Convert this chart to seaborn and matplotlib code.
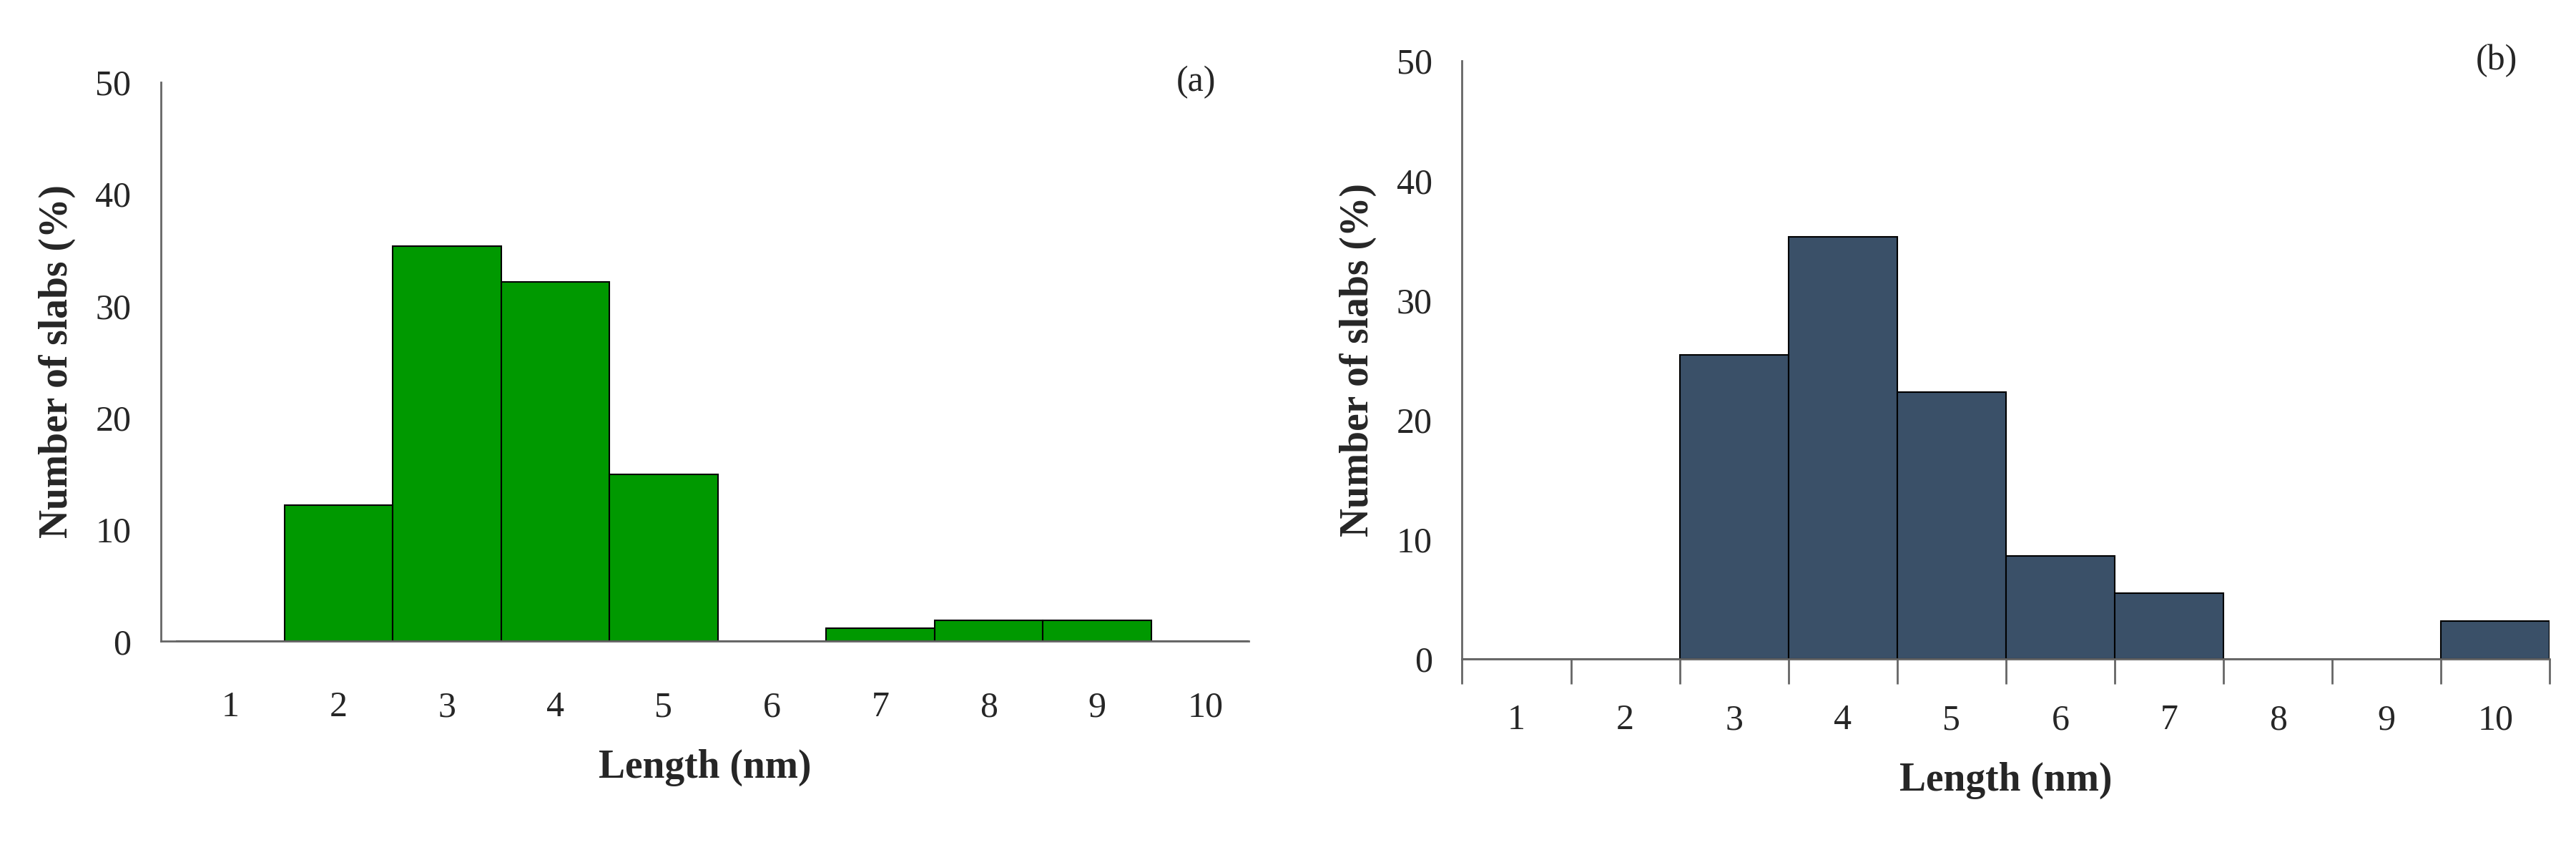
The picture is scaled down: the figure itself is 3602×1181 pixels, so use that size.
import matplotlib
matplotlib.use("Agg")
import matplotlib.pyplot as plt
import seaborn as sns

lengths = [1, 2, 3, 4, 5, 6, 7, 8, 9, 10]
slabs_a = [0, 12.2, 35.3, 32.1, 14.9, 0, 1.2, 1.9, 1.9, 0]
slabs_b = [0, 0, 25.4, 35.3, 22.3, 8.6, 5.5, 0, 0, 3.2]
yticks = [0, 10, 20, 30, 40, 50]

sns.set_theme(style="white")
plt.rcParams['font.family'] = ['Liberation Serif', 'DejaVu Serif']

fig = plt.figure(figsize=(36.02, 11.81), dpi=100)
axa = fig.add_axes([0.0625, 0.241, 0.4222, 0.662])
axb = fig.add_axes([0.5676, 0.220, 0.4222, 0.708])

for ax, vals, col, lab, ticks, xl in [(axa, slabs_a, "#009900", "(a)", False, (0.36, 10.4)),
                                       (axb, slabs_b, "#3a5068", "(b)", True, (0.5, 10.5))]:
    sns.barplot(x=lengths, y=vals, native_scale=True, width=1.0, color=col,
                saturation=1, edgecolor="black", linewidth=1.5, ax=ax)
    ax.set_xlim(*xl)
    ax.set_ylim(0, 50)
    ax.set_yticks(yticks)
    ax.set_xticks(lengths)
    ax.tick_params(axis='both', labelsize=36, length=0)
    ax.tick_params(axis='x', pad=50 if not ticks else 45)
    ax.tick_params(axis='y', pad=30)
    for s in ["top", "right"]:
        ax.spines[s].set_visible(False)
    for s in ["left", "bottom"]:
        ax.spines[s].set_color("#666666")
        ax.spines[s].set_linewidth(2)
    ax.set_xlabel("Length (nm)", fontsize=40, fontweight="bold", labelpad=25)
    ax.set_ylabel("Number of slabs (%)", fontsize=40, fontweight="bold", labelpad=20)
    ax.text(0.97, 1.0, lab, transform=ax.transAxes, fontsize=36, ha="right", va="center")
    if ticks:
        ax.set_xticks([x + 0.5 for x in range(0, 11)], minor=True)
        ax.tick_params(axis='x', which='minor', bottom=True, length=25, width=2,
                       color="#666666", direction="out")
    ax.grid(False)

fig.savefig("out.png", dpi=100)
